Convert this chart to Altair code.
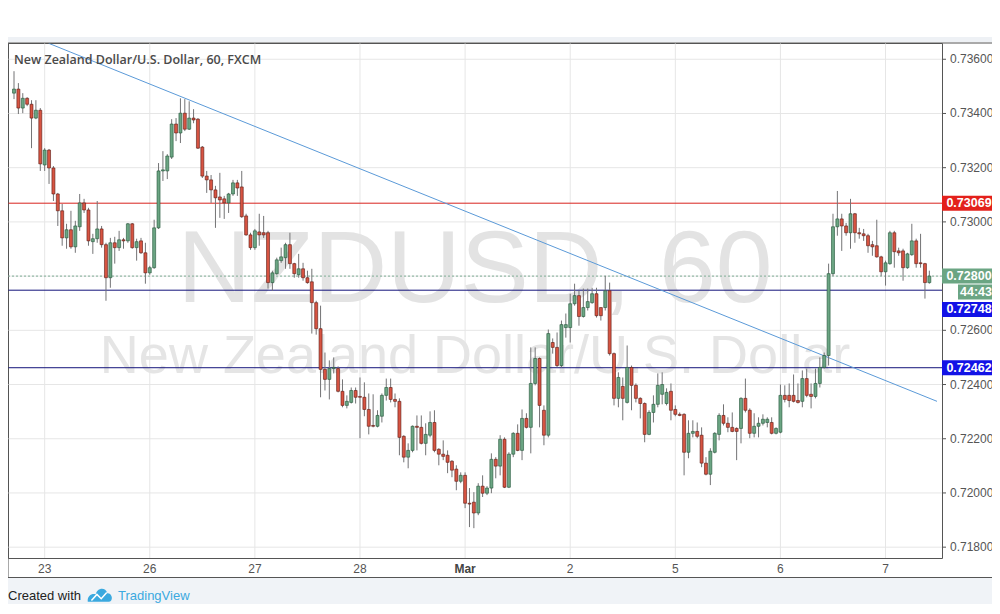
import altair as alt
import pandas as pd

# ---------------- data (prices x 1e5), hourly candles ----------------
OPEN = [
    73475, 73490, 73420, 73456, 73434, 73383, 73412, 73210, 73265, 73199,
    73103, 73041, 72941, 72971, 72908, 72982, 73070, 73044, 72927, 72938,
    72974, 72916, 72794, 72923, 72905, 72934, 72930, 72993, 72905, 72930,
    72886, 72812, 72831, 72978, 73188, 73188, 73239, 73361, 73328, 73401,
    73342, 73383, 73379, 73276, 73169, 73155, 73118, 73092, 73085, 73070,
    73103, 73144, 73129, 73022, 72952, 72905, 72963, 72960, 72960, 72776,
    72809, 72857, 72868, 72916, 72846, 72805, 72827, 72794, 72779, 72702,
    72606, 72456, 72419, 72459, 72459, 72375, 72323, 72334, 72378, 72356,
    72353, 72308, 72249, 72246, 72283, 72360, 72389, 72345, 72338, 72209,
    72132, 72157, 72246, 72242, 72183, 72213, 72260, 72161, 72143, 72139,
    72117, 72088, 72043, 72065, 71962, 71966, 71926, 72025, 71999, 72018,
    72124, 72099, 72198, 72021, 72143, 72220, 72157, 72275, 72242, 72404,
    72496, 72305, 72213, 72555, 72537, 72470, 72610, 72610, 72698, 72728,
    72651, 72684, 72702, 72735, 72684, 72684, 72746, 72514, 72349, 72393,
    72334, 72463, 72397, 72349, 72330, 72216, 72297, 72327, 72364, 72330,
    72375, 72308, 72290, 72290, 72150, 72220, 72227, 72213, 72110, 72069,
    72150, 72216, 72286, 72257, 72242, 72238, 72238, 72349, 72305, 72220,
    72246, 72257, 72260, 72260, 72220, 72224, 72360, 72360, 72360, 72341,
    72338, 72422, 72364, 72356, 72404, 72463, 72507, 72809, 72982, 73011,
    72985, 72960, 73030, 72960, 72956, 72949, 72916, 72912, 72871, 72816,
    72846, 72960, 72893, 72893, 72831, 72879, 72930, 72849, 72846, 72776,
]
HIGH = [
    73556, 73512, 73475, 73460, 73449, 73449, 73420, 73272, 73269, 73206,
    73107, 73066, 72993, 73041, 73004, 73103, 73085, 73052, 72956, 73077,
    72985, 72923, 72941, 72945, 72967, 72941, 72996, 72996, 72938, 72941,
    72923, 72838, 73008, 73217, 73261, 73250, 73379, 73383, 73456, 73453,
    73445, 73416, 73383, 73280, 73188, 73173, 73133, 73181, 73096, 73107,
    73155, 73155, 73188, 73030, 72960, 72974, 73030, 73022, 72967, 72820,
    72868, 72905, 72923, 72960, 72849, 72882, 72849, 72820, 72827, 72709,
    72691, 72518, 72489, 72500, 72467, 72419, 72360, 72389, 72389, 72426,
    72408, 72367, 72364, 72305, 72367, 72422, 72422, 72367, 72349, 72213,
    72183, 72249, 72286, 72286, 72257, 72301, 72305, 72165, 72194, 72157,
    72121, 72102, 72076, 72076, 72018, 72003, 72036, 72065, 72025, 72146,
    72132, 72213, 72205, 72150, 72224, 72253, 72308, 72294, 72537, 72537,
    72500, 72323, 72603, 72570, 72592, 72636, 72662, 72735, 72772, 72746,
    72754, 72754, 72757, 72757, 72684, 72801, 72776, 72518, 72445, 72426,
    72544, 72470, 72404, 72353, 72334, 72305, 72360, 72441, 72445, 72386,
    72404, 72323, 72297, 72294, 72268, 72268, 72260, 72242, 72132, 72165,
    72224, 72294, 72327, 72279, 72297, 72242, 72353, 72422, 72312, 72294,
    72279, 72290, 72279, 72279, 72242, 72400, 72397, 72404, 72437, 72404,
    72452, 72459, 72404, 72459, 72500, 72518, 72846, 73030, 73114, 73030,
    72996, 73085, 73033, 72978, 72974, 72956, 72930, 73008, 72875, 72857,
    72967, 72967, 72905, 72901, 72886, 72993, 72938, 72956, 72849, 72820,
]
LOW = [
    73453, 73398, 73401, 73427, 73272, 73379, 73188, 73188, 73140, 73077,
    72985, 72912, 72901, 72901, 72886, 72967, 73033, 72912, 72882, 72923,
    72905, 72709, 72757, 72846, 72893, 72901, 72923, 72901, 72857, 72882,
    72772, 72805, 72827, 72974, 73151, 73158, 73232, 73298, 73291, 73335,
    73339, 73364, 73269, 73162, 73107, 73070, 72978, 73015, 73011, 73033,
    73096, 73096, 73015, 72949, 72897, 72897, 72912, 72941, 72754, 72746,
    72805, 72849, 72827, 72827, 72794, 72794, 72783, 72772, 72588, 72584,
    72353, 72378, 72345, 72441, 72371, 72316, 72312, 72330, 72330, 72202,
    72283, 72216, 72242, 72242, 72260, 72341, 72334, 72316, 72139, 72113,
    72091, 72150, 72157, 72179, 72139, 72205, 72150, 72102, 72121, 72073,
    72058, 72010, 72036, 71944, 71874, 71870, 71918, 71985, 71992, 71999,
    72054, 72065, 72018, 72018, 72132, 72154, 72121, 72238, 72146, 72397,
    72242, 72176, 72205, 72514, 72463, 72463, 72573, 72555, 72691, 72617,
    72647, 72673, 72698, 72647, 72636, 72673, 72507, 72323, 72316, 72268,
    72330, 72305, 72334, 72275, 72187, 72213, 72260, 72316, 72327, 72323,
    72268, 72283, 72283, 72065, 72128, 72205, 72202, 72095, 72065, 72029,
    72146, 72194, 72249, 72224, 72224, 72121, 72183, 72297, 72202, 72205,
    72205, 72249, 72242, 72216, 72216, 72220, 72334, 72316, 72334, 72330,
    72316, 72353, 72312, 72349, 72389, 72459, 72470, 72801, 72949, 72893,
    72949, 72901, 72923, 72938, 72930, 72886, 72875, 72868, 72801, 72765,
    72842, 72831, 72875, 72783, 72827, 72875, 72831, 72831, 72717, 72772,
]
CLOSE = [
    73490, 73420, 73456, 73434, 73383, 73412, 73214, 73265, 73199, 73103,
    73041, 72941, 72971, 72908, 72985, 73070, 73044, 72930, 72938, 72974,
    72916, 72794, 72923, 72905, 72934, 72930, 72993, 72905, 72927, 72886,
    72812, 72831, 72978, 73188, 73192, 73243, 73361, 73328, 73401, 73342,
    73383, 73376, 73272, 73169, 73155, 73118, 73089, 73081, 73070, 73103,
    73144, 73125, 73019, 72952, 72905, 72967, 72952, 72952, 72776, 72812,
    72860, 72871, 72916, 72846, 72809, 72827, 72794, 72776, 72702, 72606,
    72456, 72419, 72459, 72463, 72375, 72323, 72338, 72378, 72353, 72353,
    72308, 72246, 72246, 72286, 72360, 72389, 72345, 72338, 72205, 72132,
    72157, 72246, 72242, 72183, 72216, 72260, 72157, 72143, 72135, 72113,
    72084, 72043, 72065, 71962, 71959, 71926, 72025, 71999, 72018, 72124,
    72099, 72198, 72021, 72143, 72220, 72157, 72275, 72242, 72404, 72496,
    72323, 72213, 72588, 72537, 72470, 72621, 72621, 72698, 72728, 72651,
    72684, 72706, 72735, 72654, 72654, 72746, 72514, 72349, 72426, 72349,
    72463, 72397, 72349, 72330, 72216, 72297, 72327, 72397, 72400, 72371,
    72305, 72290, 72286, 72150, 72220, 72227, 72209, 72110, 72069, 72154,
    72220, 72286, 72257, 72242, 72227, 72227, 72349, 72305, 72220, 72246,
    72257, 72272, 72272, 72220, 72238, 72360, 72345, 72341, 72338, 72334,
    72422, 72360, 72356, 72404, 72463, 72507, 72809, 72982, 73011, 72985,
    72960, 73030, 72960, 72956, 72949, 72912, 72908, 72871, 72816, 72849,
    72960, 72890, 72886, 72831, 72882, 72930, 72846, 72846, 72776, 72800,
]
PIP = 1e5

DAY_TICKS = [7, 31, 55, 79, 103, 127, 151, 175, 199]
DAY_LABELS = ["23", "26", "27", "28", "Mar", "2", "5", "6", "7"]
PRICE_TICKS = [0.718, 0.720, 0.722, 0.724, 0.726, 0.728, 0.730, 0.732, 0.734, 0.736]

LEVEL_PRICES = [0.73069, 0.72748, 0.72462]
LEVEL_COLORS = ["#d8231d", "#12127a", "#12127a"]
LAST_PRICE = 0.72800
TREND_IDX = [7.9, 210.75]
TREND_PRICE = [0.73659, 0.72338]

# price-axis tag boxes (centre price, text, colour)
TAG_CENTER = [0.73069, 0.72800, 0.72677, 0.72462]
TAG_TEXT = ["0.73069", "0.72800", "0.72748", "0.72462"]
TAG_FILL = ["#e3201b", "#6ba583", "#1212e6", "#1212e6"]
TIMER_CENTER = [0.72741]
TIMER_TEXT = ["44:43"]

W, H = 934, 515
XDOM = [-0.23, 210.75]
YDOM = [0.71760, 0.73660]
TAG_HALF = 0.000277

UP_FILL, UP_LINE = "#6ba583", "#225437"
DN_FILL, DN_LINE = "#d75442", "#5b1a13"
WICK = "#737375"
GRID = "#e6e6e6"
AXTXT = "#555555"
FONT = "Liberation Sans, Arial, sans-serif"

# ---------------- tables ----------------
n = len(OPEN)
assert n == len(HIGH) == len(LOW) == len(CLOSE)
candles = pd.DataFrame({
    "idx": list(range(n)),
    "open": [v / PIP for v in OPEN],
    "high": [v / PIP for v in HIGH],
    "low": [v / PIP for v in LOW],
    "close": [v / PIP for v in CLOSE],
})
up = candles["close"] >= candles["open"]
candles["fill"] = [UP_FILL if u else DN_FILL for u in up]
candles["line"] = [UP_LINE if u else DN_LINE for u in up]

days = pd.DataFrame({"idx": DAY_TICKS, "label": DAY_LABELS})
prices = pd.DataFrame({"price": PRICE_TICKS,
                       "label": [f"{p:.5f}" for p in PRICE_TICKS]})
# price labels that sit under a tag box are hidden (the tag covers them)
prices["hidden"] = [any(abs(p - c) < 2 * TAG_HALF for c in TAG_CENTER + TIMER_CENTER)
                    for p in PRICE_TICKS]
price_labels = prices[~prices["hidden"]].drop(columns="hidden")
prices = prices.drop(columns="hidden")
levels = pd.DataFrame({"price": LEVEL_PRICES, "color": LEVEL_COLORS})
trend = pd.DataFrame({"idx": TREND_IDX, "price": TREND_PRICE})
last = pd.DataFrame({"price": [LAST_PRICE]})
tags = pd.DataFrame({
    "c": TAG_CENTER, "text": TAG_TEXT, "fill": TAG_FILL,
    "top": [c + TAG_HALF for c in TAG_CENTER], "bot": [c - TAG_HALF for c in TAG_CENTER],
})
timer = pd.DataFrame({
    "c": TIMER_CENTER, "text": TIMER_TEXT,
    "top": [c + TAG_HALF for c in TIMER_CENTER], "bot": [c - TAG_HALF for c in TIMER_CENTER],
})

xscale = alt.Scale(domain=XDOM, nice=False, zero=False)
yscale = alt.Scale(domain=YDOM, nice=False, zero=False)


def X(f):
    return alt.X(f"{f}:Q", scale=xscale, axis=None)


def Y(f):
    return alt.Y(f"{f}:Q", scale=yscale, axis=None)


def txt(s):
    return alt.Chart(pd.DataFrame({"t": [s]}))


# grid and axis labels drawn from the tick arrays
ygrid = alt.Chart(prices).mark_rule(color=GRID, strokeWidth=1).encode(y=Y("price"))
xgrid = alt.Chart(days).mark_rule(color=GRID, strokeWidth=1).encode(x=X("idx"))
yticks = alt.Chart(prices).mark_rule(color=AXTXT, strokeWidth=1).encode(
    y=Y("price"), x=alt.value(W), x2=alt.value(W + 4))
ylabels = alt.Chart(price_labels).mark_text(font=FONT, fontSize=12, color=AXTXT, align="left",
                                            baseline="middle").encode(
    y=Y("price"), x=alt.value(W + 8), text="label:N")
xlabels = alt.Chart(days).transform_filter("datum.label != 'Mar'").mark_text(
    font=FONT, fontSize=12, color=AXTXT, align="center", baseline="middle").encode(
    x=X("idx"), y=alt.value(H + 11), text="label:N")
xlabels_b = alt.Chart(days).transform_filter("datum.label == 'Mar'").mark_text(
    font=FONT, fontSize=12, fontWeight="bold", color="#444444", align="center",
    baseline="middle").encode(x=X("idx"), y=alt.value(H + 11), text="label:N")

# watermark
wm1 = txt("NZDUSD, 60").mark_text(font=FONT, fontSize=102, color="#e3e3e3", align="center",
                                  baseline="alphabetic").encode(
    text="t:N", x=alt.value(467), y=alt.value(259))
wm2 = txt("New Zealand Dollar/U.S. Dollar").mark_text(font=FONT, fontSize=54, color="#e5e5e5",
                                                      align="center", baseline="alphabetic").encode(
    text="t:N", x=alt.value(467), y=alt.value(330))

level_rules = alt.Chart(levels).mark_rule(strokeWidth=1).encode(
    y=Y("price"), color=alt.Color("color:N", scale=None))
last_rule = alt.Chart(last).mark_rule(strokeWidth=1, strokeDash=[2, 2], color="#7fae95").encode(
    y=Y("price"))
trend_line = alt.Chart(trend).mark_line(color="#5b9ad8", strokeWidth=1, clip=True).encode(
    x=X("idx"), y=Y("price"))

wicks = alt.Chart(candles).mark_rule(color=WICK, strokeWidth=1).encode(
    x=X("idx"), y=Y("low"), y2="high:Q")
bodies = alt.Chart(candles).mark_bar(size=3, strokeWidth=0.6).encode(
    x=X("idx"), y=Y("open"), y2="close:Q",
    color=alt.Color("fill:N", scale=None), stroke=alt.Stroke("line:N", scale=None))

title = txt("New Zealand Dollar/U.S. Dollar, 60, FXCM").mark_text(
    font="Open Sans", fontSize=12.5, fontWeight=600, color="#4a4a4a", align="left",
    baseline="middle").encode(text="t:N", x=alt.value(6), y=alt.value(17))

tag_rect = alt.Chart(tags).mark_rect().encode(
    x=alt.value(W), x2=alt.value(985), y=Y("top"), y2="bot:Q",
    color=alt.Color("fill:N", scale=None))
tag_text = alt.Chart(tags).mark_text(font=FONT, fontSize=12.5, fontWeight="bold", color="white",
                                     align="center", baseline="middle").encode(
    x=alt.value(961), y=Y("c"), text="text:N")
timer_rect = alt.Chart(timer).mark_rect(color="#6ba583").encode(
    x=alt.value(950), x2=alt.value(985), y=Y("top"), y2="bot:Q")
timer_text = alt.Chart(timer).mark_text(font=FONT, fontSize=12.5, fontWeight="bold", color="white",
                                        align="center", baseline="middle").encode(
    x=alt.value(968), y=Y("c"), text="text:N")

# page decoration
band_bottom = txt("").mark_rect(color="#f0f3f7").encode(
    x=alt.value(-8), x2=alt.value(1000), y=alt.value(535), y2=alt.value(600))
band_top = txt("").mark_rect(color="#eef1f5").encode(
    x=alt.value(-8), x2=alt.value(1000), y=alt.value(-6), y2=alt.value(-1))
frame = txt("").mark_rect(fillOpacity=0, stroke=AXTXT, strokeWidth=1).encode(
    x=alt.value(0), x2=alt.value(985), y=alt.value(0), y2=alt.value(534.5))
credit = txt("Created with").mark_text(font=FONT, fontSize=13, color="#222222", align="left",
                                       baseline="middle").encode(
    text="t:N", x=alt.value(0), y=alt.value(553))
logo = txt("").mark_point(
    shape="M-1,0.55 C-1.05,0.05 -0.65,-0.15 -0.35,-0.05 C-0.25,-0.6 0.45,-0.7 0.6,-0.15 "
          "C1.05,-0.15 1.1,0.55 0.7,0.55 Z",
    filled=True, color="#3ba9df", size=600, opacity=1).encode(x=alt.value(92), y=alt.value(552))
logo_z = txt("").mark_point(
    shape="M-0.7,0.45 L-0.25,-0.05 L0.1,0.3 L0.55,-0.2", filled=False, color="white",
    strokeWidth=1.5, size=600, opacity=1).encode(x=alt.value(92), y=alt.value(552))
brand = txt("TradingView").mark_text(font=FONT, fontSize=13, color="#3ba9df", align="left",
                                     baseline="middle").encode(
    text="t:N", x=alt.value(110), y=alt.value(553))

chart = alt.layer(
    ygrid, xgrid, wm1, wm2, level_rules, last_rule, trend_line, wicks, bodies, title,
    band_bottom, band_top, frame, yticks, ylabels, xlabels, xlabels_b,
    tag_rect, tag_text, timer_rect, timer_text,
    credit, logo, logo_z, brand,
).properties(
    width=W, height=H,
    autosize=alt.AutoSizeParams(type="none"),
    padding={"left": 0, "top": 35, "right": 50, "bottom": 46},
    background="white",
).configure_view(stroke=AXTXT, strokeWidth=1)

chart.save("out.html", embed_options={"renderer": "svg", "actions": False})
